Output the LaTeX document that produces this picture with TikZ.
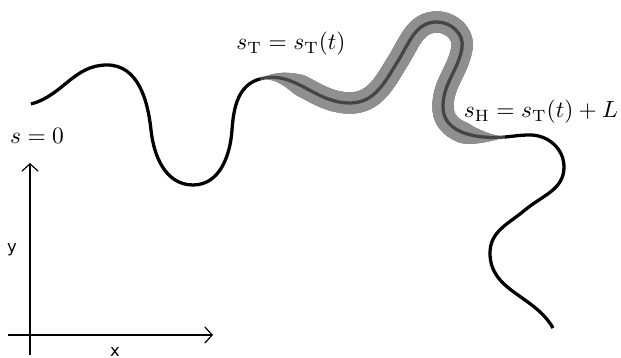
\documentclass[tikz,border=0pt]{standalone}
\usepackage{fontspec}
\setsansfont{DejaVu Sans}
\usepackage{tikz}
\usetikzlibrary{arrows.meta, decorations.markings}

\definecolor{bandgray}{gray}{0.56}
\definecolor{bodygray}{gray}{0.27}

\begin{document}
\begin{tikzpicture}[x=0.015cm, y=0.015cm,
    track/.style={line width=1.4pt, black},
    body/.style={line width=1.4pt, bodygray},
    axis/.style={-{Straight Barb[length=3.2pt, width=7pt]}, line width=0.5pt},
    lbl/.style={font=\sffamily\scriptsize},
    band/.style={postaction={decorate, decoration={markings,
        mark=between positions 0 and 1 step 0.4pt with {
          \pgfmathsetmacro\bandr{4.6*min(1, min(\pgfkeysvalueof{/pgf/decoration/mark info/distance from start}/18, (\pgfdecoratedpathlength-\pgfkeysvalueof{/pgf/decoration/mark info/distance from start})/18))}
          \fill[bandgray] (0,0) circle (\bandr pt);}}}}
]
\useasboundingbox (0,0) rectangle (621,358);

% points along the track
\coordinate (p0) at (31,254);
\coordinate (p1) at (107,293);
\coordinate (p2) at (151,228);
\coordinate (p3) at (193,173);
\coordinate (p4) at (232,228);
\coordinate (T) at (260,279);
\coordinate (q1) at (350,255);
\coordinate (q2) at (398,297);
\coordinate (q3) at (437,336);
\coordinate (q4) at (462,310);
\coordinate (q5) at (443,251);
\coordinate (H) at (505,221);
\coordinate (r1) at (530,223);
\coordinate (r2) at (564,191);
\coordinate (r3) at (525,148);
\coordinate (r4) at (490,105);
\coordinate (r5) at (553,30);

% the body between tail and head
\path[band] (T) to[out=15, in=180] (q1) to[out=0, in=-122] (q2)
    to[out=58, in=180] (q3) to[out=0, in=80] (q4)
    to[out=-100, in=90] (q5) to[out=-90, in=185] (H);
\draw[body] (T) to[out=15, in=180] (q1) to[out=0, in=-122] (q2)
    to[out=58, in=180] (q3) to[out=0, in=80] (q4)
    to[out=-100, in=90] (q5) to[out=-90, in=185] (H);

% the track itself
\draw[track] (p0) to[out=15, in=180] (p1) to[out=0, in=96] (p2)
    to[out=-84, in=180] (p3) to[out=0, in=-94] (p4)
    to[out=86, in=-165] (T);
\draw[track] (H) to[out=5, in=180] (r1) to[out=0, in=90] (r2)
    to[out=-90, in=40] (r3) to[out=-140, in=90] (r4)
    to[out=-90, in=120] (r5);

\node (start) at (37,222) {$s=0$};
\node (tail) at (291,314) {$s_{\mathrm{T}}=s_{\mathrm{T}}(t)$};
\node (head) at (541,246) {$s_{\mathrm{H}}=s_{\mathrm{T}}(t)+L$};

% axes
\coordinate (ybot) at (30,3);
\coordinate (ytip) at (30,195);
\coordinate (xleft) at (8,23);
\coordinate (xtip) at (213,23);
\draw[axis] (ybot) -- (ytip);
\draw[axis] (xleft) -- (xtip);
\node[lbl] (ylab) at (12,108) {y};
\node[lbl] (xlab) at (115,6) {x};
\end{tikzpicture}
\end{document}
